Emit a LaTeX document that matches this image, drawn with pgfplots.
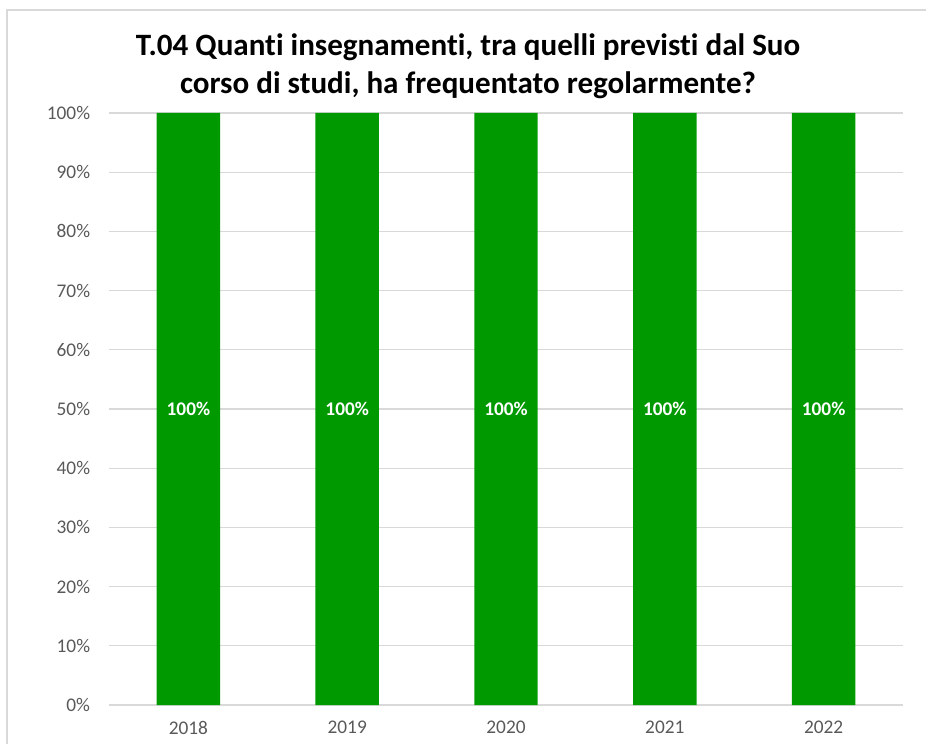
\documentclass[border=0pt]{standalone}
\usepackage{fontspec}
\setmainfont{Carlito}[Ligatures={NoCommon}]
\usepackage{pgfplots}
\pgfplotsset{compat=1.18}

\definecolor{bargreen}{RGB}{0,153,0}
\definecolor{gridgray}{RGB}{217,217,217}
\definecolor{ticktext}{RGB}{89,89,89}

\begin{document}
\begin{tikzpicture}
  % page frame, 1px = 0.75pt
  \path[use as bounding box] (0,0) rectangle (694.5pt,558pt);
  \draw[gridgray, line width=1pt] (5.25pt,0) -- (5.25pt,550.5pt) -- (694.5pt,550.5pt);

  \begin{axis}[
    at={(81.75pt,29.25pt)}, anchor=south west,
    scale only axis,
    width=595.5pt, height=444pt,
    ybar, bar width=47.6pt,
    xmin=-0.5, xmax=4.5,
    ymin=0, ymax=100,
    xtick=data,
    xticklabels={2018,2019,2020,2021,2022},
    ytick={0,10,...,100},
    yticklabels={0\%,10\%,20\%,30\%,40\%,50\%,60\%,70\%,80\%,90\%,100\%},
    axis line style={draw=none},
    major tick length=0pt,
    ymajorgrids,
    grid style={gridgray, line width=1pt},
    tick label style={font=\fontsize{14.5pt}{17pt}\selectfont, text=ticktext, inner sep=0pt},
    yticklabel style={anchor=east, xshift=-14pt},
    xticklabel style={anchor=north, yshift=-12pt},
    /pgf/number format/assume math mode=true,
    nodes near coords={\pgfmathprintnumber{\pgfplotspointmeta}\%},
    every node near coord/.append style={anchor=center, yshift=-222pt,
      font=\fontsize{14.5pt}{17pt}\selectfont\bfseries, text=white},
    point meta=y,
  ]
  \addplot[fill=bargreen, draw=none] coordinates {
    (0,100) (1,100) (2,100) (3,100) (4,100)
  };
  \end{axis}

  \node[align=center, font=\fontsize{23.3pt}{28.5pt}\selectfont\bfseries]
    at (351pt,508.5pt) {T.04 Quanti insegnamenti, tra quelli previsti dal Suo\\corso di studi, ha frequentato regolarmente?};
\end{tikzpicture}
\end{document}
